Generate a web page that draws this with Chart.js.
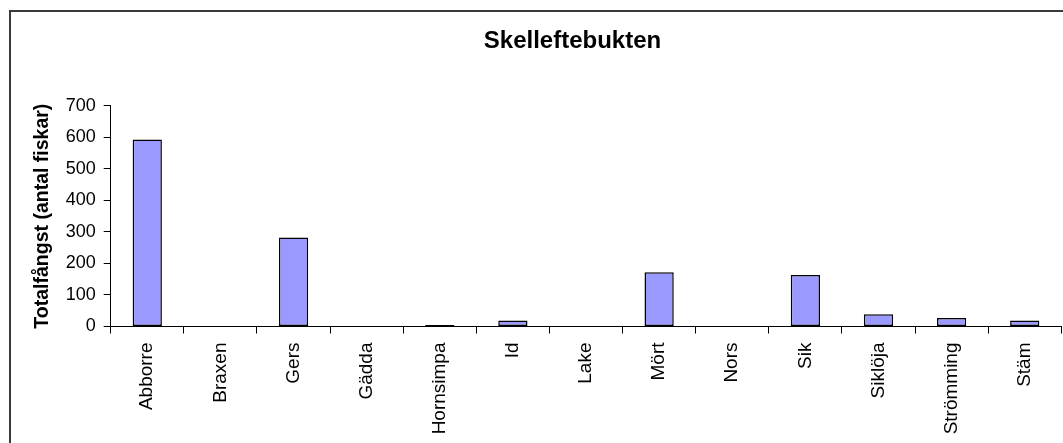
<!DOCTYPE html>
<html>
<head>
<meta charset="utf-8">
<script src="https://cdn.jsdelivr.net/npm/chart.js@4"></script>
<style>
	html, body { margin: 0; padding: 0; overflow: hidden; background: #fff; }
	#wrap { width: 1145px; height: 443px; }
</style>
</head>
<body>
<div id="wrap"><canvas id="fangstChart"></canvas></div>
<script>
const arter = ["Abborre", "Braxen", "Gers", "Gädda", "Hornsimpa", "Id", "Lake",
	"Mört", "Nors", "Sik", "Siklöja", "Strömming", "Stäm"];
const totalfangst = [593, 0, 282, 0, 5, 19, 0, 172, 0, 163, 39, 27, 19];
const yTicks = [0, 100, 200, 300, 400, 500, 600, 700];

const font = "'Liberation Sans', Arial, sans-serif";

// outer frame of the chart object (only left and top edges are visible)
const framePlugin = {
	id: "frame",
	beforeDraw(chart) {
		const c = chart.ctx;
		c.save();
		c.fillStyle = "#fff";
		c.fillRect(0, 0, chart.width, chart.height);
		c.strokeStyle = "#3a3a3a";
		c.lineWidth = 2;
		c.strokeRect(10, 11, 1300, 600);
		c.restore();
	},
};

new Chart(document.getElementById("fangstChart"), {
	type: "bar",
	data: {
		labels: arter,
		datasets: [
			{
				label: "Totalfångst",
				data: totalfangst,
				backgroundColor: "#9999ff",
				borderColor: "#000",
				borderWidth: 1.5,
				borderSkipped: false,
				barPercentage: 0.4,
				categoryPercentage: 1.0,
			},
		],
	},
	options: {
		responsive: true,
		maintainAspectRatio: false,
		animation: false,
		layout: { padding: 0 },
		plugins: {
			legend: { display: false },
			tooltip: { enabled: false },
			title: {
				display: true,
				text: "Skelleftebukten",
				color: "#000",
				font: { family: font, size: 24, weight: "bold" },
				padding: { top: 27, bottom: 50 },
			},
		},
		scales: {
			x: {
				grid: {
					display: true,
					drawOnChartArea: false,
					drawTicks: true,
					tickLength: 7,
					color: "#000",
					offset: true,
				},
				border: { color: "#000", width: 1 },
				ticks: {
					color: "#000",
					font: { family: font, size: 19 },
					minRotation: 90,
					maxRotation: 90,
					padding: 9,
					autoSkip: false,
				},
				afterFit(scale) {
					scale.height = 116.5;
				},
			},
			y: {
				min: 0,
				max: 700,
				afterBuildTicks(scale) {
					scale.ticks = yTicks.map((v) => ({ value: v }));
				},
				grid: {
					display: true,
					drawOnChartArea: false,
					drawTicks: true,
					tickLength: 7,
					color: "#000",
				},
				border: { color: "#000", width: 1 },
				ticks: {
					color: "#000",
					font: { family: font, size: 18 },
					padding: 8,
				},
				title: {
					display: true,
					text: "Totalfångst (antal fiskar)",
					color: "#000",
					font: { family: font, size: 19.5, weight: "bold" },
					padding: { top: 31, bottom: 0 },
				},
				afterFit(scale) {
					scale.width = 110.7;
				},
			},
			// empty right-hand strip so the plot ends where the reference does
			spacer: {
				position: "right",
				axis: "y",
				display: true,
				grid: { display: false },
				border: { display: false },
				ticks: { display: false },
				afterFit(scale) {
					scale.width = 83.7;
				},
			},
		},
	},
	plugins: [framePlugin],
});
</script>
</body>
</html>
